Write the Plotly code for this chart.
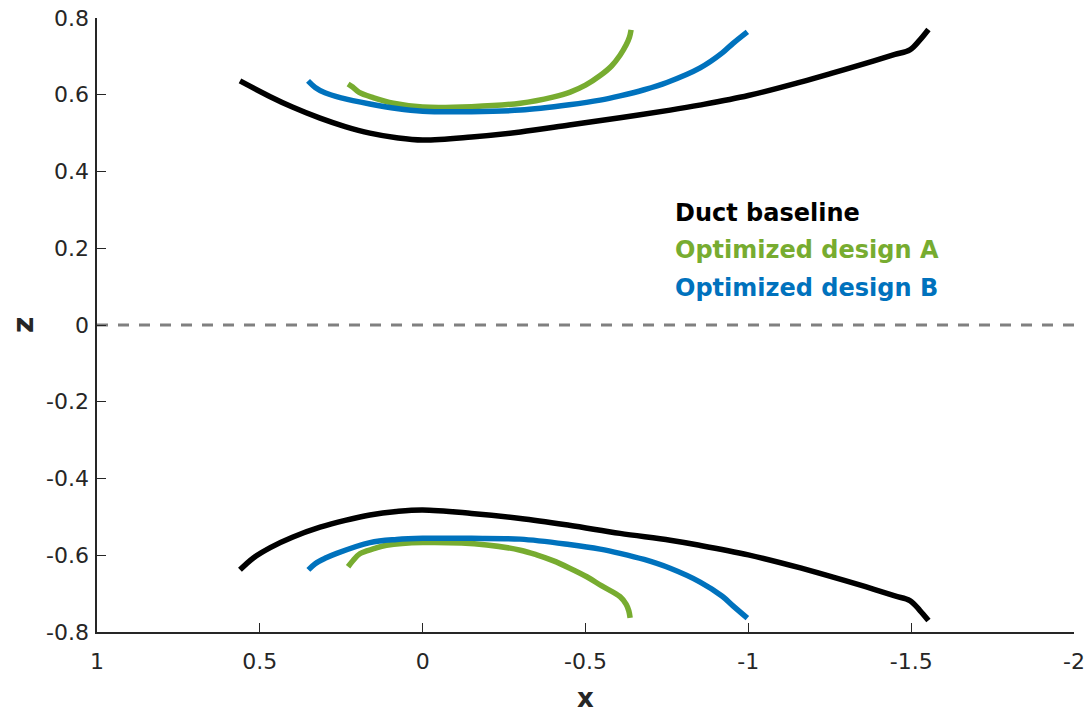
import plotly.graph_objects as go

# ---- data ----
x_base_upper = [0.561, 0.468, 0.40, 0.315, 0.238, 0.162, 0.08, 0.0, -0.15, -0.30, -0.45,
                -0.606, -0.76, -0.85, -1.0, -1.16, -1.26, -1.36, -1.45, -1.496, -1.527, -1.553]
z_base_upper = [0.636, 0.595, 0.568, 0.539, 0.517, 0.500, 0.488, 0.482, 0.490, 0.503, 0.521,
                0.540, 0.560, 0.573, 0.598, 0.633, 0.657, 0.682, 0.705, 0.717, 0.743, 0.770]
x_base_lower = [0.561, 0.52, 0.468, 0.40, 0.315, 0.238, 0.162, 0.08, 0.0, -0.15, -0.30, -0.45,
                -0.606, -0.76, -0.85, -1.0, -1.16, -1.26, -1.36, -1.45, -1.496, -1.527, -1.553]
z_base_lower = [-0.638, -0.607, -0.580, -0.553, -0.527, -0.509, -0.495, -0.486, -0.482, -0.491, -0.504, -0.522,
                -0.543, -0.561, -0.574, -0.599, -0.633, -0.657, -0.682, -0.706, -0.718, -0.744, -0.770]

x_a_upper = [0.229, 0.215, 0.195, 0.15, 0.09, 0.0, -0.15, -0.30, -0.40, -0.453, -0.50,
             -0.545, -0.58, -0.606, -0.625, -0.635, -0.640]
z_a_upper = [0.628, 0.620, 0.606, 0.592, 0.578, 0.568, 0.569, 0.578, 0.594, 0.607, 0.625,
             0.650, 0.675, 0.703, 0.730, 0.750, 0.769]
x_a_lower = [0.229, 0.215, 0.193, 0.15, 0.111, 0.0, -0.197, -0.30, -0.35, -0.40, -0.45,
             -0.504, -0.55, -0.606, -0.625, -0.633, -0.637]
z_a_lower = [-0.630, -0.615, -0.596, -0.583, -0.574, -0.567, -0.573, -0.587, -0.599, -0.614, -0.633,
             -0.656, -0.680, -0.708, -0.728, -0.745, -0.763]

x_b_upper = [0.352, 0.33, 0.30, 0.25, 0.162, 0.08, 0.0, -0.15, -0.30, -0.45, -0.545,
             -0.606, -0.68, -0.75, -0.852, -0.92, -0.953, -0.997]
z_b_upper = [0.636, 0.619, 0.605, 0.592, 0.576, 0.564, 0.557, 0.556, 0.560, 0.574, 0.586,
             0.597, 0.613, 0.632, 0.670, 0.709, 0.734, 0.764]
x_b_lower = [0.351, 0.33, 0.30, 0.264, 0.162, 0.08, 0.0, -0.15, -0.299, -0.45, -0.545,
             -0.606, -0.68, -0.76, -0.852, -0.92, -0.953, -0.997]
z_b_lower = [-0.638, -0.622, -0.608, -0.595, -0.567, -0.559, -0.556, -0.556, -0.558, -0.572, -0.584,
             -0.595, -0.611, -0.634, -0.670, -0.707, -0.732, -0.764]

series_names = ["Duct baseline", "Optimized design A", "Optimized design B"]
series_colors = ["#000000", "#77AC30", "#0072BD"]
legend_y = [0.292, 0.195, 0.097]

x_ticks = [1, 0.5, 0, -0.5, -1, -1.5, -2]
x_tick_text = ["1", "0.5", "0", "-0.5", "-1", "-1.5", "-2"]
y_ticks = [0.8, 0.6, 0.4, 0.2, 0, -0.2, -0.4, -0.6, -0.8]
y_tick_text = ["0.8", "0.6", "0.4", "0.2", "0", "-0.2", "-0.4", "-0.6", "-0.8"]

FONT = "DejaVu Sans"
AXC = "#262626"

fig = go.Figure()

curves = [
    ((x_base_upper, z_base_upper), (x_base_lower, z_base_lower)),
    ((x_a_upper, z_a_upper), (x_a_lower, z_a_lower)),
    ((x_b_upper, z_b_upper), (x_b_lower, z_b_lower)),
]
for pair, name, col in zip(curves, series_names, series_colors):
    for xs, zs in pair:
        fig.add_trace(go.Scatter(
            x=xs, y=zs, mode="lines", name=name, showlegend=False,
            line=dict(color=col, width=5.5, shape="spline", smoothing=1.0),
            hoverinfo="skip",
        ))

# dashed symmetry line
fig.add_shape(type="line", xref="x", yref="y", x0=1, x1=-2, y0=0, y1=0,
              line=dict(color="#808080", width=3, dash="11px,10px"), layer="below")

# text legend
for name, col, ly in zip(series_names, series_colors, legend_y):
    fig.add_annotation(x=-0.77, y=ly, xref="x", yref="y", text="<b>%s</b>" % name,
                       showarrow=False, xanchor="left", yanchor="middle",
                       font=dict(family=FONT, size=24, color=col))

# y tick labels placed next to the axis line
for v, t in zip(y_ticks, y_tick_text):
    fig.add_annotation(x=0, y=v, xref="paper", yref="y", text=t, showarrow=False,
                       xanchor="right", yanchor="middle", xshift=-7, borderpad=0,
                       font=dict(family=FONT, size=22, color=AXC))

# z axis title
fig.add_annotation(x=0, y=0.5, xref="paper", yref="paper", text="<b>z</b>",
                   showarrow=False, textangle=-90, xanchor="center", yanchor="middle",
                   xshift=-74, font=dict(family=FONT, size=28, color=AXC))

fig.update_layout(
    width=1089, height=713,
    margin=dict(l=97, r=15, t=18, b=81),
    plot_bgcolor="white", paper_bgcolor="white",
    showlegend=False,
    font=dict(family=FONT, color=AXC),
)
fig.update_xaxes(
    range=[1, -2], tickvals=x_ticks, ticktext=x_tick_text, automargin=False,
    showline=True, linecolor=AXC, linewidth=1.5, mirror=False,
    ticks="inside", ticklen=9, tickwidth=1, tickcolor=AXC,
    showgrid=False, zeroline=False, ticklabelstandoff=9, ticklabeloverflow="allow",
    tickfont=dict(family=FONT, size=22, color=AXC),
    title=dict(text="<b>x</b>", font=dict(family=FONT, size=26, color=AXC), standoff=18),
)
fig.update_yaxes(
    range=[-0.8, 0.8], tickvals=y_ticks, showticklabels=False, automargin=False,
    showline=True, linecolor=AXC, linewidth=1.5, mirror=False,
    ticks="inside", ticklen=9, tickwidth=1, tickcolor=AXC,
    showgrid=False, zeroline=False,
)

# remove the default page margin so the figure fills the window exactly
fig.write_html("out.html", config={"displayModeBar": False},
               post_script="document.body.style.margin='0';")
